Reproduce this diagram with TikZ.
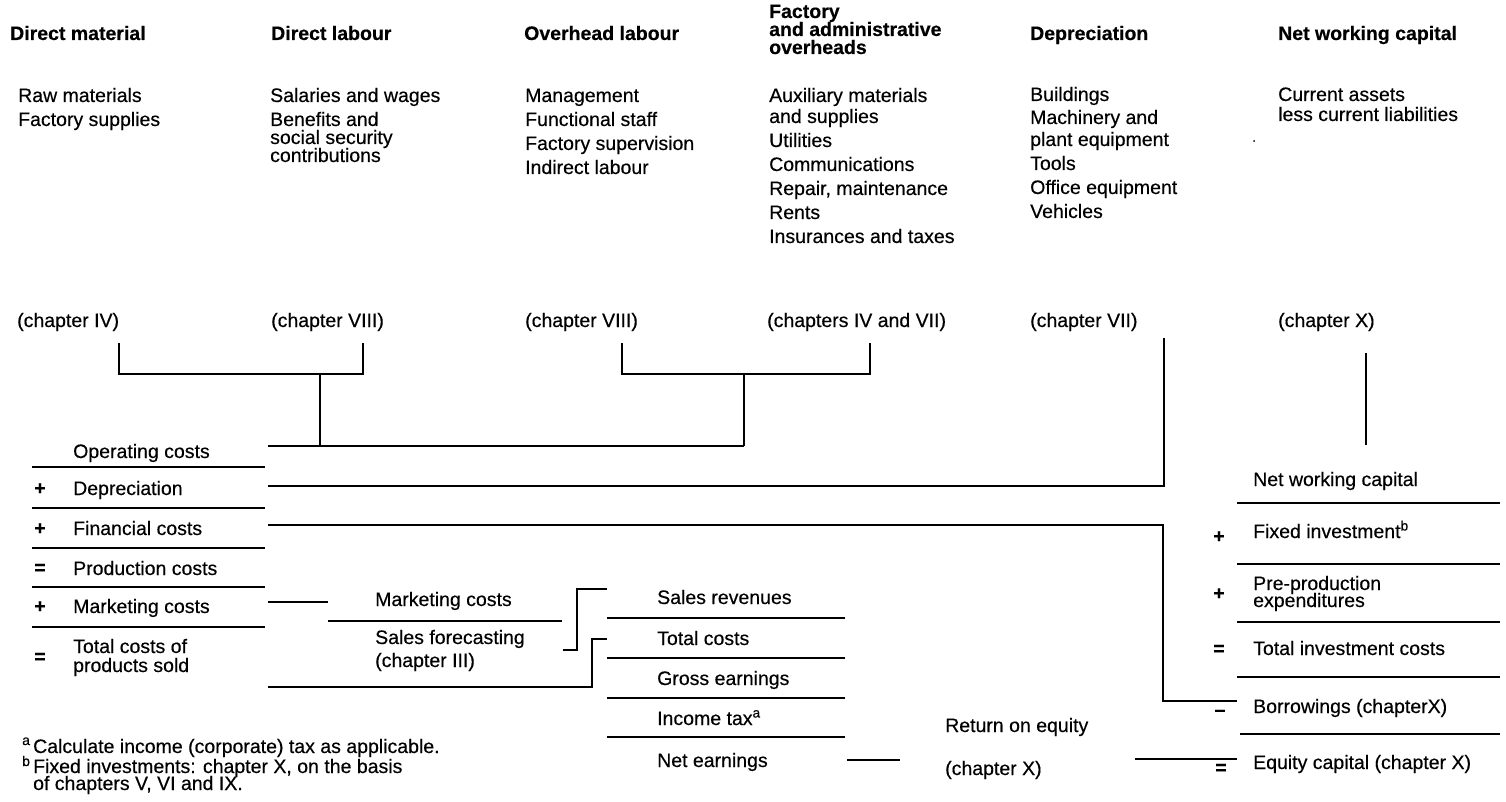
\documentclass[tikz,border=0pt]{standalone}
\usepackage{fontspec}
\setmainfont[FakeStretch=1.0,FakeBold=0.4]{Liberation Sans}
\newcommand\fsz{\fontsize{19.5}{21}\selectfont}
\begin{document}
\begin{tikzpicture}[x=1pt,y=-1pt,
  txt/.style={anchor=base west, inner sep=0pt, font=\fsz},
  hdr/.style={anchor=base west, inner sep=0pt, font=\fsz\bfseries},
  opr/.style={anchor=center, inner sep=0pt, font=\fsz\bfseries},
  sup/.style={anchor=base west, inner sep=0pt, font=\fontsize{14}{15}\selectfont},
  conn/.style={line width=1.3pt},
  rule/.style={line width=1.1pt}]
\useasboundingbox (0,0) rectangle (1506,802);

% ---- headers
\node[hdr] (h1) at (10,40) {Direct material};
\node[hdr] (h2) at (271,40) {Direct labour};
\node[hdr] (h3) at (524,40) {Overhead labour};
\node[hdr] (h4a) at (769,18) {Factory};
\node[hdr] (h4b) at (769,36) {and administrative};
\node[hdr] (h4c) at (769,54) {overheads};
\node[hdr] (h5) at (1030,40) {Depreciation};
\node[hdr] (h6) at (1278,40) {Net working capital};

% ---- item lists
\node[txt] (a1) at (18,102) {Raw materials};
\node[txt] (a2) at (18,126) {Factory supplies};

\node[txt] (b1) at (270,102) {Salaries and wages};
\node[txt] (b2) at (270,126) {Benefits and};
\node[txt] (b3) at (270,144) {social security};
\node[txt] (b4) at (270,162) {contributions};

\node[txt] (c1) at (525,102) {Management};
\node[txt] (c2) at (525,126) {Functional staff};
\node[txt] (c3) at (525,150) {Factory supervision};
\node[txt] (c4) at (525,174) {Indirect labour};

\node[txt] (d1) at (769,102) {Auxiliary materials};
\node[txt] (d2) at (769,123) {and supplies};
\node[txt] (d3) at (769,147) {Utilities};
\node[txt] (d4) at (769,171) {Communications};
\node[txt] (d5) at (769,195) {Repair, maintenance};
\node[txt] (d6) at (769,219) {Rents};
\node[txt] (d7) at (769,243) {Insurances and taxes};

\node[txt] (e1) at (1030,101) {Buildings};
\node[txt] (e2) at (1030,124) {Machinery and};
\node[txt] (e3) at (1030,146) {plant equipment};
\node[txt] (e4) at (1030,170) {Tools};
\node[txt] (e5) at (1030,194) {Office equipment};
\node[txt] (e6) at (1030,218) {Vehicles};

\node[txt] (f1) at (1278,101) {Current assets};
\node[txt] (f2) at (1278,121) {less current liabilities};
\fill (1254,141) circle (1pt);

% ---- chapter references
\node[txt] (ch1) at (17,327) {(chapter IV)};
\node[txt] (ch2) at (271,327) {(chapter VIII)};
\node[txt] (ch3) at (525,327) {(chapter VIII)};
\node[txt] (ch4) at (767,327) {(chapters IV and VII)};
\node[txt] (ch5) at (1030,327) {(chapter VII)};
\node[txt] (ch6) at (1278,327) {(chapter X)};

% ---- left column: costs
\node[txt] (l1) at (73,458) {Operating costs};
\node[txt] (l2) at (73,495) {Depreciation};
\node[txt] (l3) at (73,535) {Financial costs};
\node[txt] (l4) at (73,575) {Production costs};
\node[txt] (l5) at (73,613) {Marketing costs};
\node[txt] (l6a) at (73,653) {Total costs of};
\node[txt] (l6b) at (73,672) {products sold};
\node[opr] (o2) at (40,489) {+};
\node[opr] (o3) at (40,529) {+};
\node[opr] (o4) at (40,569) {=};
\node[opr] (o5) at (40,607) {+};
\node[opr] (o6) at (40,658) {=};
\foreach \yy in {467,508,548,587,627} \draw[rule] (32,\yy) -- (265,\yy);

% ---- middle: marketing
\node[txt] (m1) at (375,606) {Marketing costs};
\node[txt] (m2) at (375,644) {Sales forecasting};
\node[txt] (m3) at (375,667) {(chapter III)};
\draw[rule] (328,621) -- (562,621);

% ---- sales column
\node[txt] (s1) at (657,604) {Sales revenues};
\node[txt] (s2) at (657,645) {Total costs};
\node[txt] (s3) at (657,685) {Gross earnings};
\node[txt] (s4) at (657,725) {Income tax\textsuperscript{a}};
\node[txt] (s5) at (657,767) {Net earnings};
\foreach \yy in {618,658,698,737} \draw[rule] (607,\yy) -- (845,\yy);

% ---- return on equity
\node[txt] (r1) at (945,732) {Return on equity};
\node[txt] (r2) at (945,775) {(chapter X)};

% ---- right column: investment
\node[txt] (i1) at (1253,486) {Net working capital};
\node[txt] (i2) at (1253,538) {Fixed investment\textsuperscript{b}};
\node[txt] (i3a) at (1253,590) {Pre-production};
\node[txt] (i3b) at (1253,607) {expenditures};
\node[txt] (i4) at (1253,655) {Total investment costs};
\node[txt] (i5) at (1253,713) {Borrowings (chapterX)};
\node[txt] (i6) at (1253,769) {Equity capital (chapter X)};
\node[opr] (q2) at (1219,537) {+};
\node[opr] (q3) at (1219,594) {+};
\node[opr] (q4) at (1219,650) {=};
\node[opr] (q5) at (1220,713) {--};
\node[opr] (q6) at (1221,769) {=};
\draw[rule] (1237,503) -- (1500,503);
\draw[rule] (1237,564) -- (1500,564);
\draw[rule] (1237,622) -- (1500,622);
\draw[rule] (1237,677) -- (1500,677);
\draw[rule] (1240,734) -- (1500,734);

% ---- footnotes
\node[sup] (fa) at (22,745) {a};
\node[txt] (fn1) at (33,753) {Calculate income (corporate) tax as applicable.};
\node[sup] (fb) at (22,766) {b};
\node[txt] (fn2) at (33,773) {Fixed investments: chapter X, on the basis};
\node[txt] (fn3) at (33,790) {of chapters V, VI and IX.};

% ---- connector coordinates
\coordinate (k1a) at (119,343); \coordinate (k1b) at (363,343);
\coordinate (k2a) at (622,343); \coordinate (k2b) at (870,343);
\coordinate (opL) at (268,446);
\coordinate (dpL) at (268,486); \coordinate (dpT) at (1164,338);
\coordinate (fcL) at (268,525); \coordinate (bor) at (1237,701);
\coordinate (nwT) at (1366,353); \coordinate (nwB) at (1366,445);
\coordinate (mkL) at (268,602); \coordinate (mkR) at (328,602);
\coordinate (sfR) at (563,650); \coordinate (srL) at (607,589);
\coordinate (tcL) at (268,687); \coordinate (tcR) at (607,639);
\coordinate (neL) at (847,760); \coordinate (neR) at (900,760);
\coordinate (eqL) at (1135,759); \coordinate (eqR) at (1237,759);

% ---- connectors
\draw[conn] (k1a) -- (119,374) -- (363,374) -- (k1b);
\draw[conn] (320,374) -- (320,446);
\draw[conn] (k2a) -- (622,374) -- (870,374) -- (k2b);
\draw[conn] (744,374) -- (744,446);
\draw[conn] (opL) -- (744,446);
\draw[conn] (dpL) -| (dpT);
\draw[conn] (fcL) -- (1163,525) -- (1163,701) -- (bor);
\draw[conn] (nwT) -- (nwB);
\draw[conn] (mkL) -- (mkR);
\draw[conn] (sfR) -- (577,650) -- (577,589) -- (srL);
\draw[conn] (tcL) -- (592,687) -- (592,639) -- (tcR);
\draw[conn] (neL) -- (neR);
\draw[conn] (eqL) -- (eqR);
\end{tikzpicture}
\end{document}
